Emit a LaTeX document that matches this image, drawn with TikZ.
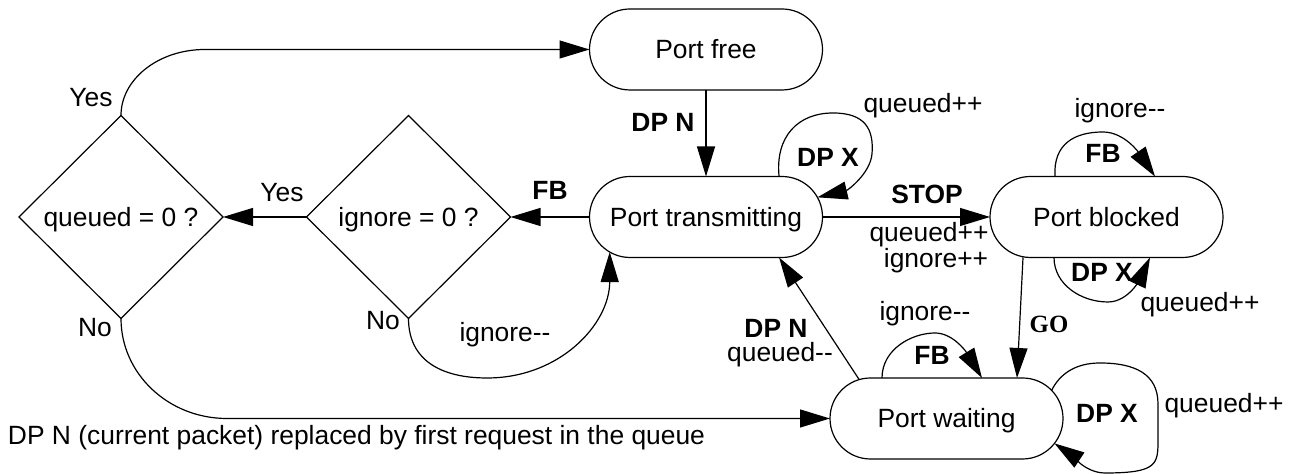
\documentclass[tikz,border=0pt]{standalone}
\usepackage{fontspec}
\setmainfont{Liberation Sans}
\newfontfamily\gofont{Liberation Serif}
\usetikzlibrary{arrows.meta,shapes.misc,shapes.geometric,calc}

\begin{document}
\begin{tikzpicture}[x=0.5pt,y=0.5pt,
  every node/.style={font=\fontsize{13.2}{15}\selectfont, inner sep=0pt, outer sep=0pt},
  state/.style={draw, rounded rectangle, minimum width=116.5pt, minimum height=40.5pt,
    text height=9.45pt, text depth=0pt, line width=0.6pt},
  test/.style={draw, diamond, aspect=1, minimum width=102pt, minimum height=101.5pt,
    text height=9.45pt, text depth=0pt, line width=0.6pt},
  lbl/.style={anchor=base},
  bl/.style={anchor=base, font=\fontsize{13.2}{15}\selectfont\bfseries},
  edge/.style={line width=0.6pt, -{Triangle[length=15pt,width=9pt]}},
]
\useasboundingbox (0,0) rectangle (1294,474);

% states and tests
\node[state] (pf) at (706,424.5) {Port free};
\node[state] (tx) at (706,257) {Port transmitting};
\node[state] (pb) at (1106.5,257) {Port blocked};
\node[state] (pw) at (946.5,55.5) {Port waiting};
\node[test] (qz) at (121,257) {queued = 0 ?};
\node[test] (iz) at (408.5,257) {ignore = 0 ?};

% transitions
\draw[edge] (pf.south) -- (tx.north);
\draw[edge] (tx.west) -- (iz.east);
\draw[edge] (iz.west) -- (qz.east);
\draw[edge] (qz.north) .. controls +(0,36) and +(-47,0) .. (205,424.5) -- (pf.west);
\draw[edge] (qz.south) .. controls +(0,-55) and +(-59,0) .. (227,55.5) -- (pw.west);
\draw[edge] (iz.south) .. controls +(0,-41) and +(-47,0) .. (487,96)
  .. controls +(73,0) and +(0,-72) .. (tx.200);
\draw[edge] (pw.156) -- (tx.-29);
\draw[edge] (tx.east) -- (pb.west);
\draw[edge] ($(pb.south)+(-83.5,0)$) -- ($(pw.north)+(70.5,0)$);

% self loops
\draw[edge] (tx.29) .. controls +(-4,40) and +(-35,0) .. (833,361)
  .. controls +(32,0) and +(2,25) .. (872,320)
  .. controls +(-2,-20) and +(30,7) .. (tx.10);
\draw[edge] ($(pb.north)+(-51.5,0)$) .. controls +(-2,33) and +(-28,0) .. (1103,342)
  .. controls +(22,0) and +(-15,22) .. ($(pb.north)+(48.5,0)$);
\draw[edge] ($(pb.south)+(-52.5,0)$) .. controls +(0,-27) and +(-27,0) .. (1108,172)
  .. controls +(22,0) and +(-8,-17) .. ($(pb.south)+(43.5,0)$);
\draw[edge] ($(pw.north)+(-64.5,0)$) .. controls +(0,29) and +(-23,0) .. (935,141)
  .. controls +(17,0) and +(-17,28) .. ($(pw.north)+(35.5,0)$);
\draw[edge] (pw.15) .. controls +(8,16) and +(-25,0) .. (1100,111)
  .. controls +(35,0) and +(0,30) .. (1158,70) -- (1158,35)
  .. controls +(0,-25) and +(53,0) .. (1105,1)
  .. controls +(-20,0) and +(15,-10) .. (pw.-13);

% labels
\node[lbl] (yes1) at (91,367) {Yes};
\node[lbl] (yes2) at (282,272) {Yes};
\node[lbl] (no1) at (95,137) {No};
\node[lbl] (no2) at (383,144) {No};
\node[anchor=base west] (note) at (8,29) {DP N (current packet) replaced by first request in the queue};
\node[lbl] (ign1) at (505,132) {ignore-{}-};
\node[bl] (fb1) at (550,274) {FB};
\node[bl] (dpn1) at (663,342) {DP N};
\node[bl] (dpx1) at (828,307) {DP X};
\node[lbl] (qpp1) at (923,361) {queued++};
\node[bl] (dpn2) at (776,136) {DP N};
\node[lbl] (qmm) at (780,112) {queued-{}-};
\node[bl] (stop) at (927,270) {STOP};
\node[lbl] (qpp2) at (929,232) {queued++};
\node[lbl] (ipp) at (936,206) {ignore++};
\node[lbl] (ign2) at (1120,356) {ignore-{}-};
\node[bl] (fb2) at (1103,311) {FB};
\node[bl] (dpx2) at (1102,192) {DP X};
\node[lbl] (qpp3) at (1200,162) {queued++};
\node[anchor=base, font=\fontsize{12.4}{14}\gofont\bfseries] (go) at (1049,141) {GO};
\node[lbl] (ign3) at (925,153) {ignore-{}-};
\node[bl] (fb3) at (932,109) {FB};
\node[bl] (dpx3) at (1107,51) {DP X};
\node[lbl] (qpp4) at (1224,61) {queued++};
\end{tikzpicture}
\end{document}
